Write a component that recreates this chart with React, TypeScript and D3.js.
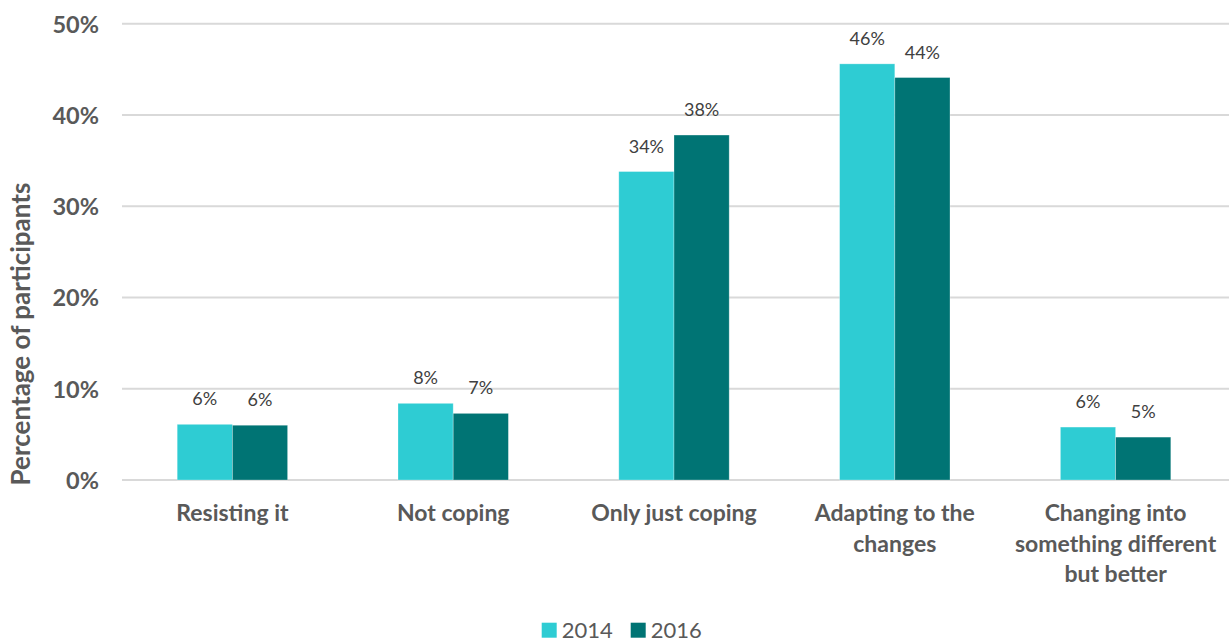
import React from "react";
import * as d3 from "d3";

const categories: string[][] = [
  ["Resisting it"],
  ["Not coping"],
  ["Only just coping"],
  ["Adapting to the", "changes"],
  ["Changing into", "something different", "but better"],
];
const seriesNames = ["2014", "2016"];
const values2014 = [6.1, 8.4, 33.8, 45.6, 5.8];
const values2016 = [6.0, 7.3, 37.8, 44.1, 4.7];
const labels2014 = ["6%", "8%", "34%", "46%", "6%"];
const labels2016 = ["6%", "7%", "38%", "44%", "5%"];
const yTicks = [0, 10, 20, 30, 40, 50];
const colors = ["#2ECCD3", "#007474"];

const W = 1229;
const H = 642;
const FONT = "Lato, 'Open Sans', sans-serif";

export default function App() {
  const x0 = 122;
  const x1 = 1226;
  const yTop = 23.7;
  const yBot = 480;
  const x = d3
    .scaleBand<number>()
    .domain(d3.range(categories.length))
    .range([x0, x1])
    .paddingInner(0.5)
    .paddingOuter(0.25);
  const y = d3.scaleLinear().domain([0, 50]).range([yBot, yTop]);
  const bw = x.bandwidth() / 2;
  const series = [values2014, values2016];
  const seriesLabels = [labels2014, labels2016];

  return (
    <svg
      width={W}
      height={H}
      style={{ position: "absolute", left: 0, top: 0, background: "#fff" }}
      fontFamily={FONT}
    >
      {yTicks.map((t) => (
        <g key={t}>
          <line x1={x0} x2={W} y1={y(t)} y2={y(t)} stroke="#D9D9D9" strokeWidth={2} />
          <text
            x={99}
            y={y(t)}
            textAnchor="end"
            dominantBaseline="central"
            fontSize={23.5}
            fontWeight={700}
            fill="#595959"
          >
            {t}%
          </text>
        </g>
      ))}
      <text
        transform={`translate(30,334) rotate(-90)`}
        textAnchor="middle"
        fontSize={26}
        fontWeight={700}
        fill="#595959"
      >
        Percentage of participants
      </text>
      {categories.map((c, i) => (
        <g key={i}>
          {series.map((vals, s) => {
            const bx = (x(i) as number) + s * bw;
            return (
              <g key={s}>
                <rect
                  x={bx}
                  y={y(vals[i])}
                  width={bw}
                  height={yBot - y(vals[i])}
                  fill={colors[s]}
                  stroke="#ffffff"
                  strokeOpacity={0.35}
                  strokeWidth={0.8}
                />
                <text
                  x={bx + bw / 2}
                  y={y(vals[i]) - 19}
                  textAnchor="middle"
                  fontSize={18}
                  fill="#404040"
                >
                  {seriesLabels[s][i]}
                </text>
              </g>
            );
          })}
          <text
            x={(x(i) as number) + x.bandwidth() / 2}
            textAnchor="middle"
            fontSize={23}
            fontWeight={700}
            fill="#595959"
          >
            {c.map((line, k) => (
              <tspan key={k} x={(x(i) as number) + x.bandwidth() / 2} y={521 + k * 30.5}>
                {line}
              </tspan>
            ))}
          </text>
        </g>
      ))}
      {seriesNames.map((n, s) => {
        const lx = [541.7, 630.7][s];
        return (
          <g key={n}>
            <rect x={lx} y={622.7} width={15} height={15} fill={colors[s]} />
            <text x={lx + 20} y={638} fontSize={22} fill="#595959">
              {n}
            </text>
          </g>
        );
      })}
    </svg>
  );
}
